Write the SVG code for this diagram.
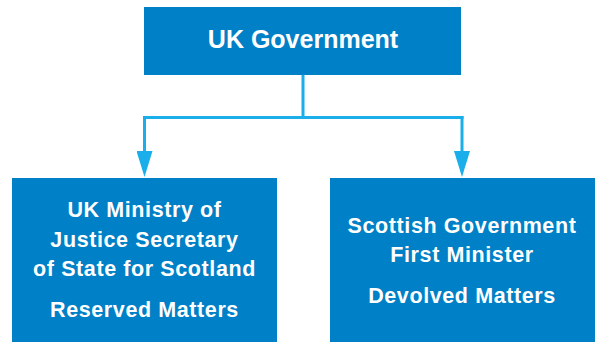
<svg xmlns="http://www.w3.org/2000/svg" width="601" height="342" viewBox="0 0 601 342">
  <style>
    .box { fill: #0080C6; }
    .lbl { fill: #FFFFFF; font-family: "Liberation Sans", Arial, sans-serif; font-weight: bold; text-anchor: middle; }
    .top { font-size: 25px; }
    .sub { font-size: 21.5px; letter-spacing: 0.6px; }
    .wire { fill: none; stroke: #1AAFEB; stroke-width: 3; }
  </style>
  <defs>
    <!-- arrowhead: tip sits 12px past the end of the line -->
    <marker id="arrow" markerUnits="userSpaceOnUse" markerWidth="26" markerHeight="16" refX="14" refY="8" orient="auto" viewBox="0 0 26 16">
      <path d="M0,0 L26,8 L0,16 Z" fill="#1AAFEB"/>
    </marker>
  </defs>
  <rect width="601" height="342" fill="#FFFFFF"/>

  <g id="connectors">
    <path class="wire" d="M303,75 V117.5"/>
    <path class="wire" d="M143,117.5 H463.5"/>
    <path class="wire" d="M144.5,116 V165" marker-end="url(#arrow)"/>
    <path class="wire" d="M462,116 V165" marker-end="url(#arrow)"/>
  </g>

  <g id="uk-government">
    <rect class="box" x="144" y="7" width="317" height="68"/>
    <text class="lbl top" x="303" y="47.5">UK Government</text>
  </g>

  <g id="uk-ministry">
    <rect class="box" x="12" y="178" width="265" height="164"/>
    <text class="lbl sub" x="144.5" y="216.5">UK Ministry of</text>
    <text class="lbl sub" x="144.5" y="246.5">Justice Secretary</text>
    <text class="lbl sub" x="144.5" y="276">of State for Scotland</text>
    <text class="lbl sub" x="144.5" y="316.5">Reserved Matters</text>
  </g>

  <g id="scottish-government">
    <rect class="box" x="330" y="178" width="265" height="164"/>
    <text class="lbl sub" x="462" y="232.5">Scottish Government</text>
    <text class="lbl sub" x="462" y="262">First Minister</text>
    <text class="lbl sub" x="462" y="302.5">Devolved Matters</text>
  </g>
</svg>
